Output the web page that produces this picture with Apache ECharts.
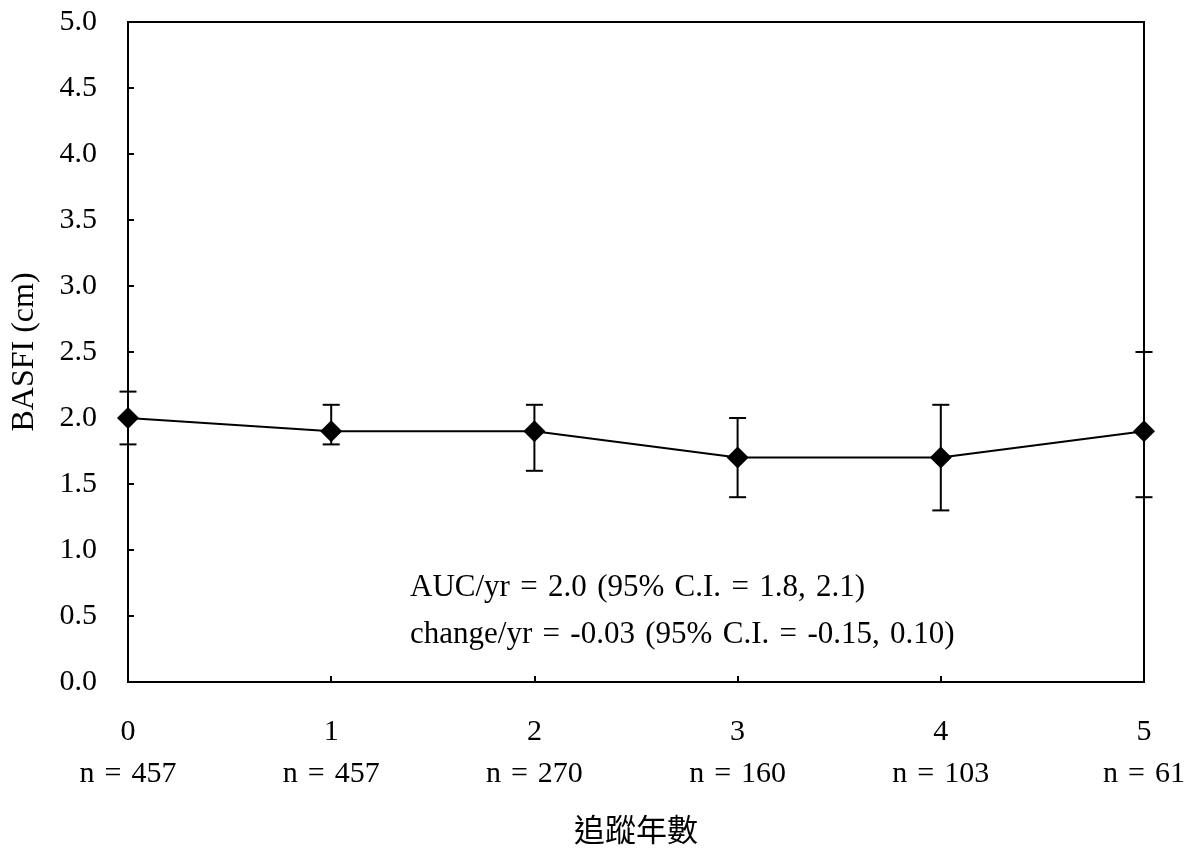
<!DOCTYPE html>
<html>
<head>
<meta charset="utf-8">
<script src="https://cdn.jsdelivr.net/npm/echarts@6/dist/echarts.min.js"></script>
<style>
    html, body { margin: 0; padding: 0; background: #fff; }
    #main { width: 1189px; height: 853px; }
</style>
</head>
<body>
<div id="main"></div>
<script>
// 資料
let years = ['0', '1', '2', '3', '4', '5'];
let nLabels = ['n = 457', 'n = 457', 'n = 270', 'n = 160', 'n = 103', 'n = 61'];
let means = [2.0, 1.9, 1.9, 1.7, 1.7, 1.9];
let lows = [1.8, 1.8, 1.6, 1.4, 1.3, 1.4];
let highs = [2.2, 2.1, 2.1, 2.0, 2.1, 2.5];
let notes = ['AUC/yr = 2.0 (95% C.I. = 1.8, 2.1)', 'change/yr = -0.03 (95% C.I. = -0.15, 0.10)'];

let serif = '"Liberation Serif", "Times New Roman", serif';
let cjk = '"Noto Sans CJK TC", "Noto Sans CJK SC", sans-serif';

// 誤差線
let errData = years.map((y, i) => [i, lows[i], highs[i]]);

function renderErr(params, api) {
    let lo = api.coord([api.value(0), api.value(1)]);
    let hi = api.coord([api.value(0), api.value(2)]);
    let w = 8.5;
    let style = { stroke: '#000', lineWidth: 2 };
    return {
        type: 'group',
        children: [
            { type: 'line', shape: { x1: lo[0], y1: lo[1], x2: hi[0], y2: hi[1] }, style: style },
            { type: 'line', shape: { x1: lo[0] - w, y1: lo[1], x2: lo[0] + w, y2: lo[1] }, style: style },
            { type: 'line', shape: { x1: hi[0] - w, y1: hi[1], x2: hi[0] + w, y2: hi[1] }, style: style }
        ]
    };
}

// 註解文字 (空白稍寬)
function wide(s) {
    return s.replace(/ /g, ' \u200A');
}

let myChart = echarts.init(document.getElementById('main'));
let option = {
    animation: false,
    backgroundColor: '#fff',
    grid: {
        left: 128,
        right: 45,
        top: 22,
        bottom: 171,
        outerBoundsMode: 'none',
        containLabel: false,
        show: true,
        borderColor: '#000',
        borderWidth: 2
    },
    xAxis: {
        type: 'category',
        data: years,
        boundaryGap: false,
        name: '追蹤年數',
        nameLocation: 'middle',
        nameGap: 132,
        nameTextStyle: { fontFamily: cjk, fontSize: 31, color: '#000' },
        axisLine: { lineStyle: { color: '#000', width: 2 } },
        axisTick: { inside: true, length: 6, lineStyle: { color: '#000', width: 2 } },
        axisLabel: {
            color: '#000',
            fontFamily: serif,
            fontSize: 30,
            lineHeight: 42,
            margin: 29,
            formatter: (v, i) => v + '\n' + wide(nLabels[i])
        },
        splitLine: { show: false }
    },
    yAxis: {
        type: 'value',
        min: 0,
        max: 5,
        interval: 0.5,
        name: 'BASFI (cm)',
        nameLocation: 'middle',
        nameGap: 87,
        nameTextStyle: { fontFamily: serif, fontSize: 32, color: '#000' },
        axisLine: { show: true, lineStyle: { color: '#000', width: 2 } },
        axisTick: { show: true, inside: true, length: 6, lineStyle: { color: '#000', width: 2 } },
        axisLabel: {
            color: '#000',
            fontFamily: serif,
            fontSize: 30,
            margin: 31,
            formatter: v => v.toFixed(1)
        },
        splitLine: { show: false }
    },
    series: [
        {
            type: 'custom',
            renderItem: renderErr,
            data: errData,
            z: 1
        },
        {
            type: 'line',
            data: means,
            symbol: 'diamond',
            symbolSize: 22,
            lineStyle: { color: '#000', width: 2 },
            itemStyle: { color: '#000' },
            z: 2
        }
    ],
    graphic: [
        {
            type: 'text',
            left: 410,
            top: 572,
            style: { text: wide(notes[0]), font: '31px ' + serif, fill: '#000' }
        },
        {
            type: 'text',
            left: 410,
            top: 619,
            style: { text: wide(notes[1]), font: '31px ' + serif, fill: '#000' }
        }
    ]
};
myChart.setOption(option);
</script>
</body>
</html>
